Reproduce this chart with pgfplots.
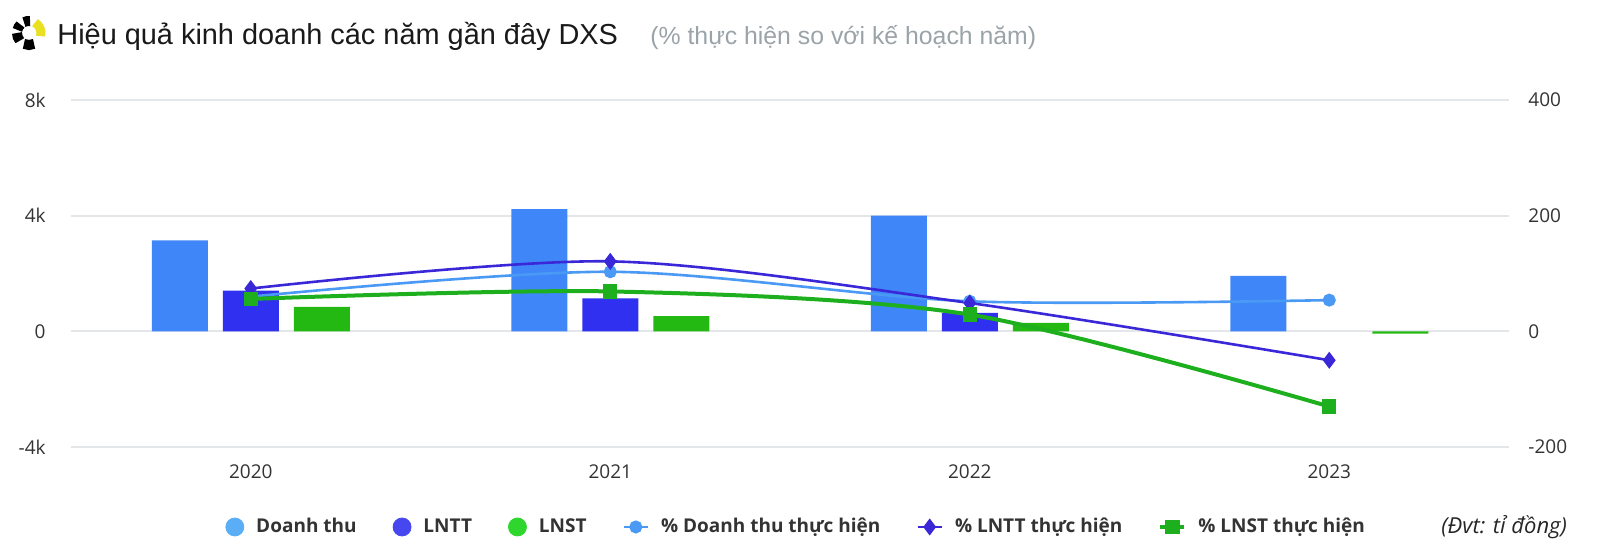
\documentclass[border=0pt]{standalone}
\usepackage{pgfplots}
\pgfplotsset{compat=1.18}
\usepackage{fontspec}
\setmainfont{Open Sans}
\newfontfamily\titlefont{Liberation Sans}

\definecolor{cDT}{HTML}{3F86F9}
\definecolor{cLNTT}{HTML}{3030F0}
\definecolor{cLNST}{HTML}{24B812}
\definecolor{lDT}{HTML}{4A9AF5}
\definecolor{lLNTT}{HTML}{3A28D8}
\definecolor{lLNST}{HTML}{1EAF1E}
\definecolor{legDT}{HTML}{5AAEF5}
\definecolor{legLNTT}{HTML}{4747F0}
\definecolor{legLNST}{HTML}{2ED62E}
\definecolor{cGrid}{HTML}{E3E7EA}
\definecolor{cTick}{HTML}{333333}
\definecolor{cSub}{HTML}{9AA3A8}
\definecolor{cLogo}{HTML}{E8E020}

\begin{document}
\begin{tikzpicture}

% logo
\begin{scope}[shift={(14.5pt,260pt)}]
  \foreach \a/\b in {85/115,135/165,180/220,245/295}
    \draw[line width=5pt,black] (\a:6pt) arc[start angle=\a,end angle=\b,radius=6pt];
  \draw[line width=4.5pt,cLogo] (-15:6pt) arc[start angle=-15,end angle=60,radius=6pt];
\end{scope}

\node[anchor=base west,inner sep=0pt,text=black!90] at (28.5pt,254.5pt)
  {\titlefont\fontsize{14.45}{16}\selectfont Hiệu quả kinh doanh các năm gần đây DXS};
\node[anchor=base west,inner sep=0pt,text=cSub] at (325pt,254.5pt)
  {\titlefont\fontsize{12.4}{14}\selectfont (\% thực hiện so với kế hoạch năm)};

\node[anchor=west,inner sep=0pt,text=black!85] at (720.5pt,13pt)
  {\itshape\fontsize{11}{13}\selectfont (Đvt: tỉ đồng)};

% bars, left axis
\begin{axis}[
  at={(35.5pt,53pt)}, anchor=south west,
  scale only axis, width=719pt, height=173.5pt,
  xmin=-0.5, xmax=3.5, ymin=-4000, ymax=8000,
  axis line style={draw=none}, major tick length=0pt,
  xtick={0,1,2,3}, xticklabels={2020,2021,2022,2023},
  ytick={-4000,0,4000,8000}, yticklabels={-4k,0,4k,8k},
  ymajorgrids, grid style={cGrid,line width=1pt},
  yticklabel style={anchor=east,inner sep=0pt,xshift=-12.5pt,text=cTick,font=\fontsize{9.5}{11}\selectfont},
  xticklabel style={anchor=base,inner sep=0pt,yshift=-15.5pt,text=cTick,font=\fontsize{9.5}{11}\selectfont},
  bar width=28pt,
]
\addplot[ybar,bar shift=-35.5pt,fill=cDT,draw=none]
  coordinates {(0,3150) (1,4230) (2,4000) (3,1915)};
\addplot[ybar,bar shift=0pt,fill=cLNTT,draw=none]
  coordinates {(0,1410) (1,1140) (2,640)};
\addplot[ybar,bar shift=35.5pt,fill=cLNST,draw=none]
  coordinates {(0,843) (1,524) (2,296) (3,-75)};
\end{axis}

% % lines, right axis
\begin{axis}[
  at={(35.5pt,53pt)}, anchor=south west,
  scale only axis, width=719pt, height=173.5pt,
  xmin=-0.5, xmax=3.5, ymin=-200, ymax=400,
  axis y line*=right, hide x axis,
  axis line style={draw=none}, major tick length=0pt,
  ytick={-200,0,200,400}, yticklabels={-200,0,200,400},
  yticklabel style={anchor=west,inner sep=0pt,xshift=9.5pt,text=cTick,font=\fontsize{9.5}{11}\selectfont},
  legend columns=6,
  legend style={at={(0.505,-0.2305)},anchor=center,draw=none,fill=none,
    font=\bfseries\fontsize{9.5}{11}\selectfont,text=cTick,
    /tikz/every even column/.append style={column sep=16pt},
    /tikz/every odd column/.append style={column sep=4pt}},
  legend image code/.code={\draw[mark repeat=2,mark phase=2,#1] plot coordinates {(0pt,0pt) (6pt,0pt) (12pt,0pt)};},
]
\addlegendimage{legend image code/.code={\fill[legDT] (4pt,0pt) circle (4.5pt);}}
\addlegendentry{Doanh thu}
\addlegendimage{legend image code/.code={\fill[legLNTT] (4pt,0pt) circle (4.5pt);}}
\addlegendentry{LNTT}
\addlegendimage{legend image code/.code={\fill[legLNST] (4pt,0pt) circle (4.5pt);}}
\addlegendentry{LNST}

\addplot[smooth,color=lDT,line width=1.3pt,mark=*,mark size=2.6pt,mark options={fill=lDT,draw=none}]
  coordinates {(0,60) (1,103) (2,52) (3,54)};
\addlegendentry{\% Doanh thu thực hiện}
\addplot[smooth,color=lLNTT,line width=1.3pt,mark=diamond*,mark size=3.2pt,mark options={fill=lLNTT,draw=none}]
  coordinates {(0,74) (1,121) (2,49) (3,-50)};
\addlegendentry{\% LNTT thực hiện}
\addplot[smooth,color=lLNST,line width=2pt,mark=square*,mark size=2.6pt,mark options={fill=lLNST,draw=none}]
  coordinates {(0,56) (1,69) (2,29) (3,-130)};
\addlegendentry{\% LNST thực hiện}
\end{axis}

\pgfresetboundingbox
\path (0pt,0pt) rectangle (800pt,276.5pt);
\end{tikzpicture}
\end{document}
